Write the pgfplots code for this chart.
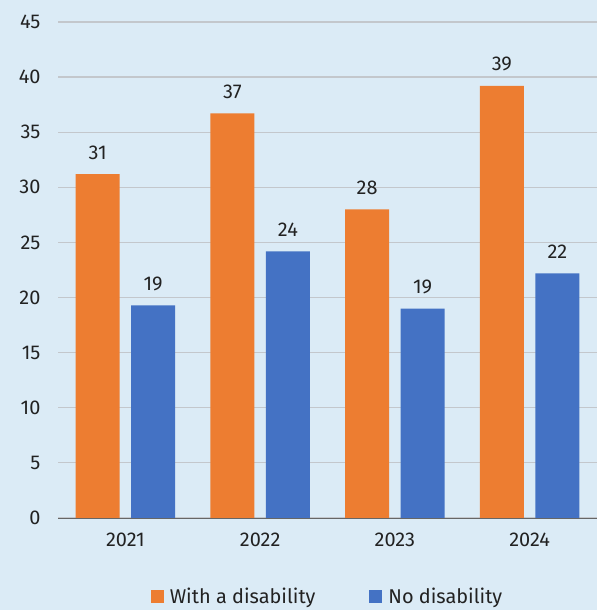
\documentclass[border=0pt]{standalone}
\usepackage{fontspec}
\setmainfont{Fira Sans}
\usepackage{pgfplots}
\pgfplotsset{compat=1.18}
\definecolor{panel}{HTML}{DBEBF6}
\definecolor{gridc}{HTML}{C3C7CC}
\definecolor{withdis}{HTML}{ED7D31}
\definecolor{nodis}{HTML}{4472C4}
\definecolor{txt}{HTML}{222222}
\newcommand{\labfont}{\fontsize{20}{24}\selectfont}
\begin{document}
\begin{tikzpicture}[x=1bp,y=1bp]
\fill[panel] (0,0) rectangle (597,610);
\useasboundingbox (0,0) rectangle (597,610);
\begin{axis}[
  at={(58bp,92bp)}, anchor=south west,
  scale only axis, width=539bp, height=496bp,
  xmin=-0.5, xmax=3.5, ymin=0, ymax=45,
  ytick={0,5,...,45},
  xtick={0,1,2,3}, xticklabels={2021,2022,2023,2024},
  ybar, bar width=0.327,
  axis y line*=left, axis x line*=bottom,
  y axis line style={draw=none},
  x axis line style={draw=gray!80!black, line width=0.8pt, -},
  major tick length=0pt,
  ymajorgrids, grid style={gridc, line width=1.2pt},
  tick label style={font=\labfont, text=txt},
  /pgf/number format/assume math mode=true,
  yticklabel style={anchor=east, xshift=-14bp},
  xticklabel style={yshift=-11bp},
  nodes near coords={\pgfmathprintnumber[fixed,precision=0]{\pgfplotspointmeta}},
  every node near coord/.append style={font=\labfont, text=txt, yshift=11bp},
  legend columns=2,
  legend style={at={(0.5,-0.159)}, anchor=center, draw=none, fill=none,
    font=\labfont, text=txt,
    /tikz/every odd column/.append style={column sep=4bp},
    /tikz/every even column/.append style={column sep=52bp}},
  legend image code/.code={\fill[#1] (0bp,-6.5bp) rectangle (13bp,6.5bp);},
]
\addplot[fill=withdis, draw=none, bar shift=-0.206] coordinates {(0,31.2) (1,36.7) (2,28.0) (3,39.2)};
\addplot[fill=nodis, draw=none, bar shift=0.206] coordinates {(0,19.3) (1,24.2) (2,19.0) (3,22.2)};
\legend{With a disability, No disability}
\end{axis}
\end{tikzpicture}
\end{document}
